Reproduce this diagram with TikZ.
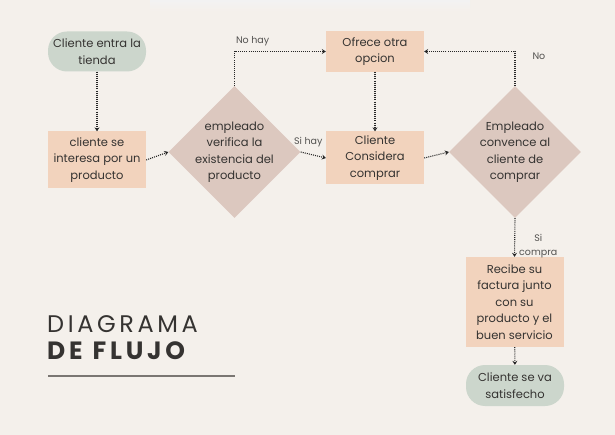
\documentclass[tikz,border=0pt]{standalone}
\usepackage{fontspec}
\setmainfont{Poppins}
\newfontfamily\titlefont[LetterSpace=15]{Poppins}
\usetikzlibrary{shapes.geometric,arrows.meta}
\definecolor{fondo}{HTML}{F4F0EB}
\definecolor{verde}{HTML}{CCD6CC}
\definecolor{durazno}{HTML}{F2D3BD}
\definecolor{rosa}{HTML}{DCC8BF}
\definecolor{tinta}{HTML}{353331}
\definecolor{raya}{HTML}{7A7672}
\tikzset{
  texto/.style={font=\fontsize{11.5}{16.5}\selectfont, text=tinta, align=center},
  terminal/.style={texto, fill=verde, rounded corners=19pt, minimum width=98pt, inner sep=1pt},
  caja/.style={texto, fill=durazno, minimum width=98pt, inner sep=1pt},
  decision/.style={diamond, fill=rosa, inner sep=0pt, minimum size=132pt},
  flecha/.style={line width=1.1pt, dash pattern=on 1pt off 1.1pt, draw=black!85,
    -{Stealth[length=4pt,width=5pt,inset=1.5pt]}},
  rotulo/.style={font=\fontsize{9.5}{14}\selectfont, text=tinta!85, align=center, inner sep=1pt},
}
\begin{document}
\begin{tikzpicture}[x=1pt,y=-1pt]
  \useasboundingbox[fill=fondo] (0,0) rectangle (615,435);
  \shade[top color=black!5, bottom color=fondo, draw=none] (150,0) rectangle (470,11);
  % nodos
  \node[terminal, minimum height=40pt] (inicio) at (97,51.5) {Cliente entra la\\tienda};
  \node[caja, minimum height=57pt] (interes) at (97,160) {cliente se\\interesa por un\\producto};
  \node[decision, label={[texto]center:empleado\\verifica la\\existencia del\\producto}] (verifica) at (234.5,152) {};
  \node[caja, minimum height=41pt] (ofrece) at (375,51.5) {Ofrece otra\\opcion};
  \node[caja, minimum height=53pt] (considera) at (375,158) {Cliente\\Considera\\comprar};
  \node[decision, label={[texto]center:Empleado\\convence al\\cliente de\\comprar}] (convence) at (515,152) {};
  \node[caja, minimum height=90pt] (factura) at (514.5,302) {Recibe su\\factura junto\\con su\\producto y el\\buen servicio};
  \node[terminal, minimum height=41pt] (fin) at (515,385.5) {Cliente se va\\satisfecho};
  % conectores
  \draw[flecha] (inicio) -- (interes);
  \draw[flecha] (interes.east) -- (verifica.west);
  \draw[flecha] (verifica.north) |- (ofrece.west)
    node[rotulo, pos=0.5, anchor=south west, xshift=0pt, yshift=4pt] (nohay) {No hay};
  \draw[flecha] (verifica.east) -- (considera.west)
    node[rotulo, pos=0.3, anchor=south, yshift=5pt] (sihay) {Si hay};
  \draw[flecha] (ofrece) -- (considera);
  \draw[flecha] (considera.east) -- (convence.west);
  \draw[flecha] (convence.north) |- (ofrece.east)
    node[rotulo, pos=0.5, anchor=west, xshift=16pt, yshift=-5pt] (no) {No};
  \draw[flecha] (convence.south) -- (factura.north)
    node[rotulo, pos=0.72, anchor=west, xshift=3pt] (sicompra) {Si\\compra};
  \draw[flecha] (factura) -- (fin);
  % titulo
  \node[anchor=base west, inner sep=0pt, text=tinta, font=\titlefont\fontsize{24}{24}\selectfont] (titulo) at (47,332) {DIAGRAMA};
  \node[anchor=base west, inner sep=0pt, text=tinta, font=\titlefont\bfseries\fontsize{25}{25}\selectfont] (subtitulo) at (47,359) {DE\hspace{10pt}FLUJO};
  \coordinate (raya1) at (48,376);
  \coordinate (raya2) at (235,376);
  \draw[raya, line width=1.3pt] (raya1) -- (raya2);
\end{tikzpicture}
\end{document}
